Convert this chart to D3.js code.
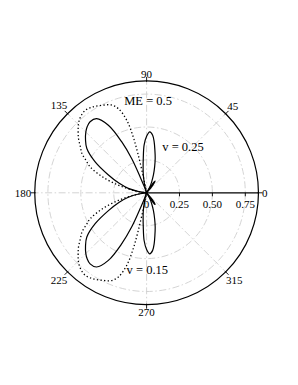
<!DOCTYPE html>
<html>
<head>
<meta charset="utf-8">
<title>Polar pattern</title>
<script src="https://d3js.org/d3.v7.min.js"></script>
<style>
  body { margin: 0; background: #fff; }
  text { font-family: "Liberation Serif", "Times New Roman", serif; fill: #000; }
</style>
</head>
<body>
<svg id="chart" width="298" height="385"></svg>
<script>

// axis ticks
var angleTicks = [0, 45, 90, 135, 180, 225, 270, 315];
var radialTicks = [0, 0.25, 0.5, 0.75];
var radialTickLabels = ["0", "0.25", "0.50", "0.75"];
var rMax = 0.85;

// solid curve, upper half (deg, r) - the lower half is its mirror image
var solidAngles = [0, 46, 50, 54, 57, 59, 61, 65, 69, 73, 76, 79, 81.5, 84, 87, 90, 93, 95.5, 98, 100.5, 103, 105, 107, 108,
  110, 112, 113.5, 116, 119.5, 124, 128.5, 132, 135, 139, 143.5, 149, 155, 161, 166.5, 171, 175, 180];
var solidR = [0, 0, 0.07, 0.11, 0.07, 0, 0.05, 0.09, 0.145, 0.21, 0.27, 0.33, 0.39, 0.44, 0.464, 0.43, 0.363, 0.263, 0.19, 0.137, 0.08, 0.045, 0.01, 0,
  0.04, 0.12, 0.28, 0.43, 0.59, 0.68, 0.69, 0.675, 0.653, 0.615, 0.565, 0.456, 0.32, 0.22, 0.143, 0.06, 0, 0];

// dotted curve, upper half
var dottedAngles = [0, 100, 101.5, 102.5, 103.5, 105.3, 108.5, 112, 117, 122, 126.7, 131, 134.5, 138, 141.5, 145, 148.7, 152,
  155.3, 160, 165, 170, 174, 177, 180];
var dottedR = [0, 0, 0.12, 0.3, 0.44, 0.571, 0.674, 0.72, 0.746, 0.77, 0.781, 0.765, 0.738, 0.70, 0.661, 0.615, 0.575, 0.52,
  0.472, 0.36, 0.22, 0.09, 0.02, 0, 0];

var notes = ["ME = 0.5", "v = 0.25", "v = 0.15"];

var cx = 146.6, cy = 192.8;
var svg = d3.select("#chart");
var r = d3.scaleLinear().domain([0, 1]).range([0, 131.6]);
var R = r(rMax);
var rad = function(a) { return a * Math.PI / 180; };

var g = svg.append("g").attr("transform", "translate(" + cx + "," + cy + ")");

// grid
var gridStyle = function(sel) {
  sel.attr("fill", "none").attr("stroke", "#cfcfcf").attr("stroke-width", 0.9)
     .attr("stroke-dasharray", "7,2.5,1.5,2.5");
};
g.selectAll(".gridc").data(radialTicks.slice(1)).enter().append("circle")
  .attr("r", function(d) { return r(d); })
  .call(gridStyle);
g.selectAll(".gridl").data(angleTicks.slice(1)).enter().append("line")
  .attr("x1", 0).attr("y1", 0)
  .attr("x2", function(d) { return R * Math.cos(rad(d)); })
  .attr("y2", function(d) { return -R * Math.sin(rad(d)); })
  .call(gridStyle);

// build full closed curve then cut it into lobes at the zeros
function fullCurve(angles, rs) {
  var pts = angles.map(function(a, i) { return {a: a, r: rs[i]}; });
  for (var i = angles.length - 2; i > 0; i--) pts.push({a: 360 - angles[i], r: rs[i]});
  pts.push({a: 360, r: rs[0]});
  return pts;
}
function lobes(pts) {
  var out = [], cur = null;
  pts.forEach(function(p, i) {
    if (p.r > 0) {
      if (!cur) cur = [pts[i - 1] || {a: p.a, r: 0}];
      cur.push(p);
    } else if (cur) {
      cur.push(p); out.push(cur); cur = null;
    }
  });
  if (cur) out.push(cur);
  return out;
}

var radial = d3.lineRadial()
  .angle(function(d) { return rad(90 - d.a); })
  .radius(function(d) { return r(d.r); })
  .curve(d3.curveCatmullRom.alpha(0.5));

g.selectAll(".dotted").data(lobes(fullCurve(dottedAngles, dottedR))).enter().append("path")
  .attr("d", radial)
  .attr("fill", "none").attr("stroke", "#000").attr("stroke-width", 1.3)
  .attr("stroke-dasharray", "1.3,2.3");

g.selectAll(".solid").data(lobes(fullCurve(solidAngles, solidR))).enter().append("path")
  .attr("d", radial)
  .attr("fill", "none").attr("stroke", "#000").attr("stroke-width", 1.2);

// outer circle and radial axis
g.append("circle").attr("r", R).attr("fill", "none").attr("stroke", "#000").attr("stroke-width", 1.2);
g.append("line").attr("x1", 0).attr("y1", 0).attr("x2", R).attr("y2", 0)
  .attr("stroke", "#000").attr("stroke-width", 1.2);

g.selectAll(".rtick").data(radialTicks.slice(1)).enter().append("line")
  .attr("x1", function(d) { return r(d); }).attr("x2", function(d) { return r(d); })
  .attr("y1", 0).attr("y2", 3.5)
  .attr("stroke", "#000").attr("stroke-width", 0.9);
g.selectAll(".rlab").data(radialTicks).enter().append("text")
  .attr("x", function(d) { return r(d); })
  .attr("y", 15.5)
  .attr("text-anchor", "middle")
  .attr("font-size", "11px")
  .text(function(d, i) { return radialTickLabels[i]; });

// angle ticks and labels
g.selectAll(".atick").data(angleTicks).enter().append("line")
  .attr("x1", function(d) { return (R - 1) * Math.cos(rad(d)); })
  .attr("y1", function(d) { return -(R - 1) * Math.sin(rad(d)); })
  .attr("x2", function(d) { return (R + 4) * Math.cos(rad(d)); })
  .attr("y2", function(d) { return -(R + 4) * Math.sin(rad(d)); })
  .attr("stroke", "#000").attr("stroke-width", 0.9);

g.selectAll(".alab").data(angleTicks).enter().append("text")
  .attr("text-anchor", "middle")
  .attr("font-size", "11px")
  .attr("dy", "0.35em")
  .text(function(d) { return d; })
  .each(function(d) {
    var w = this.getComputedTextLength(), h = 7.6;
    var c = Math.cos(rad(d)), s = Math.sin(rad(d));
    var dist = R + 3.5 + Math.abs(c) * w / 2 + Math.abs(s) * h / 2;
    d3.select(this).attr("x", dist * c).attr("y", -dist * s);
  });

// annotations
g.append("text").attr("x", 1.5).attr("y", -88).attr("text-anchor", "middle")
  .attr("font-size", "12.5px").text(notes[0]);
g.append("text").attr("x", 15.7).attr("y", -42).attr("text-anchor", "start")
  .attr("font-size", "12.5px").text(notes[1]);
g.append("text").attr("x", -20).attr("y", 81).attr("text-anchor", "start")
  .attr("font-size", "12.5px").text(notes[2]);

</script>
</body>
</html>
